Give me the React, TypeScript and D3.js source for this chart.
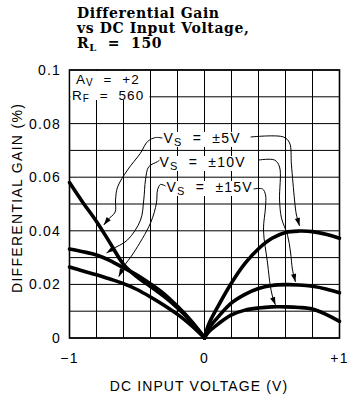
import React from "react";
import * as d3 from "d3";

const W = 349;
const H = 397;

// Axis domains and tick labels
const xDomain: [number, number] = [-1, 1];
const yDomain: [number, number] = [0, 0.1];
const xGrid = d3.range(11).map((i) => -1 + i * 0.2);
const yGrid = d3.range(11).map((i) => i * 0.01);
const xTicks = [-1, 0, 1];
const xTickLabels = ["\u22121", "0", "+1"];
const yTicks = [0, 0.02, 0.04, 0.06, 0.08, 0.1];
const yTickLabels = ["0", "0.02", "0.04", "0.06", "0.08", "0.1"];

// Differential gain (%) vs DC input voltage (V), negative side
const xLeft = [-1, -0.9, -0.8, -0.7, -0.6, -0.5, -0.4, -0.3, -0.2, -0.1, -0.03, 0];
const gain5Left = [0.058, 0.0505, 0.0435, 0.0355, 0.0275, 0.0228, 0.0192, 0.0155, 0.0112, 0.0062, 0.002, 0];
const gain10Left = [0.0332, 0.0322, 0.031, 0.0289, 0.0262, 0.0235, 0.0202, 0.0165, 0.0118, 0.0065, 0.0021, 0];
const gain15Left = [0.0265, 0.025, 0.0236, 0.022, 0.0203, 0.0181, 0.0153, 0.0122, 0.0088, 0.0048, 0.0015, 0];

// Positive side
const xRight = [0, 0.03, 0.1, 0.2, 0.3, 0.4, 0.5, 0.6, 0.7, 0.8, 0.9, 1.0];
const gain5Right = [0, 0.005, 0.0118, 0.0205, 0.0278, 0.0333, 0.0372, 0.0394, 0.0399, 0.0397, 0.0387, 0.0372];
const gain10Right = [0, 0.0035, 0.0078, 0.0131, 0.0163, 0.0185, 0.0196, 0.0199, 0.0198, 0.0193, 0.0183, 0.0169];
const gain15Right = [0, 0.0022, 0.0052, 0.0086, 0.0104, 0.0112, 0.0116, 0.0116, 0.0114, 0.0108, 0.0088, 0.0062];

// Supply-voltage callouts: label anchor (data units) and leader paths [x, y]
const supplyLabels = ["\u00b15V", "\u00b110V", "\u00b115V"];
const labelAnchors: [number, number][] = [
  [-0.304, 0.0728],
  [-0.333, 0.0638],
  [-0.281, 0.0545],
];
const leadersLeft: [number, number][][] = [
  [[-0.311, 0.0746], [-0.363, 0.0748], [-0.422, 0.0733], [-0.474, 0.069], [-0.57, 0.0627], [-0.644, 0.0563], [-0.659, 0.0515], [-0.662, 0.047], [-0.715, 0.0442], [-0.746, 0.0422]],
  [[-0.333, 0.0664], [-0.348, 0.0658], [-0.413, 0.0639], [-0.437, 0.059], [-0.45, 0.0515], [-0.474, 0.044], [-0.57, 0.0366], [-0.681, 0.0332], [-0.726, 0.0317]],
  [[-0.289, 0.0567], [-0.326, 0.0573], [-0.348, 0.0552], [-0.356, 0.0504], [-0.4, 0.0429], [-0.526, 0.0317], [-0.6, 0.0265], [-0.635, 0.0229]],
];
const leadersRight: [number, number][][] = [
  [[0.341, 0.075], [0.585, 0.075], [0.63, 0.0728], [0.644, 0.0646], [0.667, 0.0515], [0.681, 0.0459], [0.704, 0.0418]],
  [[0.4, 0.0664], [0.519, 0.0664], [0.556, 0.0638], [0.556, 0.0515], [0.57, 0.0448], [0.615, 0.0384], [0.637, 0.0321], [0.652, 0.0254], [0.674, 0.0209]],
  [[0.363, 0.0556], [0.43, 0.0556], [0.452, 0.0534], [0.452, 0.0489], [0.437, 0.0403], [0.467, 0.028], [0.489, 0.019], [0.511, 0.0142], [0.526, 0.0123]],
];

const SANS = "'Liberation Sans', Arial, sans-serif";
const SERIF = "'DejaVu Serif', serif";

export default function App() {
  const ref = React.useRef<SVGSVGElement>(null);

  React.useEffect(() => {
    const svg = d3.select(ref.current);
    svg.selectAll("*").remove();

    const x = d3.scaleLinear().domain(xDomain).range([69.5, 339.5]);
    const y = d3.scaleLinear().domain(yDomain).range([338, 70]);

    svg.append("rect").attr("width", W).attr("height", H).attr("fill", "#fff");

    // Title
    const title = svg.append("g").attr("font-family", SERIF).attr("font-weight", "bold")
      .attr("font-size", 14).attr("letter-spacing", 0.6).attr("fill", "#000");
    title.append("text").attr("x", 77).attr("y", 17.5).text("Differential Gain");
    title.append("text").attr("x", 77).attr("y", 32.5).text("vs DC Input Voltage,");
    const t3 = title.append("text").attr("x", 77).attr("y", 48).style("white-space", "pre");
    t3.append("tspan").text("R");
    t3.append("tspan").attr("dy", 3).attr("font-size", 10).text("L");
    t3.append("tspan").attr("dy", -3).text("  =  150");

    // Grid
    const grid = svg.append("g").attr("stroke", "#000").attr("stroke-width", 1);
    grid.selectAll("line.v").data(xGrid).join("line").attr("class", "v")
      .attr("x1", (d) => x(d)).attr("x2", (d) => x(d)).attr("y1", y(0)).attr("y2", y(0.1));
    grid.selectAll("line.h").data(yGrid).join("line").attr("class", "h")
      .attr("x1", x(-1)).attr("x2", x(1)).attr("y1", (d) => y(d)).attr("y2", (d) => y(d));

    // Plot frame
    svg.append("rect").attr("x", x(-1)).attr("y", y(0.1)).attr("width", x(1) - x(-1)).attr("height", y(0) - y(0.1))
      .attr("fill", "none").attr("stroke", "#000").attr("stroke-width", 1.6);

    // Tick labels
    const tl = svg.append("g").attr("font-family", SANS).attr("font-size", 14).attr("letter-spacing", 1.2).attr("fill", "#000");
    tl.selectAll("text.y").data(yTicks).join("text").attr("class", "y")
      .attr("x", 61).attr("y", (d) => y(d) + 5).attr("text-anchor", "end").text((d, i) => yTickLabels[i]);
    tl.selectAll("text.x").data(xTicks).join("text").attr("class", "x")
      .attr("x", (d) => x(d)).attr("y", 363).attr("text-anchor", "middle").text((d, i) => xTickLabels[i]);

    // Axis titles
    svg.append("text").attr("font-family", SANS).attr("font-size", 14).attr("letter-spacing", 1.1)
      .attr("x", 199).attr("y", 391).attr("text-anchor", "middle").text("DC INPUT VOLTAGE (V)");
    svg.append("text").attr("font-family", SANS).attr("font-size", 14).attr("letter-spacing", 1.3)
      .attr("transform", "translate(22,293) rotate(-90)").text("DIFFERENTIAL GAIN (%)");

    // Curves
    const line = d3.line<[number, number]>().x((d) => x(d[0])).y((d) => y(d[1])).curve(d3.curveCatmullRom.alpha(0.5));
    const series = [
      [xLeft, gain5Left], [xLeft, gain10Left], [xLeft, gain15Left],
      [xRight, gain5Right], [xRight, gain10Right], [xRight, gain15Right],
    ] as [number[], number[]][];
    svg.append("g").selectAll("path").data(series).join("path")
      .attr("d", ([xs, ys]) => line(xs.map((v, i) => [v, ys[i]] as [number, number])))
      .attr("fill", "none").attr("stroke", "#000").attr("stroke-width", 3.6).attr("stroke-linecap", "round").attr("stroke-linejoin", "round");

    // Conditions box
    svg.append("rect").attr("x", x(-1) + 1).attr("y", y(0.1) + 1).attr("width", 79).attr("height", 29).attr("fill", "#fff");
    const cond = svg.append("g").attr("font-family", SANS).attr("font-size", 13.5).attr("letter-spacing", 1.1);
    const av = cond.append("text").attr("x", 76).attr("y", 84).style("white-space", "pre");
    av.append("tspan").text("A");
    av.append("tspan").attr("dy", 2).attr("font-size", 10).text("V");
    av.append("tspan").attr("dy", -2).text("  =  +2");
    const rf = cond.append("text").attr("x", 72).attr("y", 99.5).style("white-space", "pre");
    rf.append("tspan").text("R");
    rf.append("tspan").attr("dy", 2).attr("font-size", 10).text("F");
    rf.append("tspan").attr("dy", -2).text("  =  560");

    // Supply-voltage callouts
    const leaderLine = d3.line<[number, number]>().x((d) => x(d[0])).y((d) => y(d[1])).curve(d3.curveCatmullRom.alpha(0.5));
    const drawLeader = (pts: [number, number][]) => {
      svg.append("path").attr("d", leaderLine(pts)).attr("fill", "none").attr("stroke", "#000").attr("stroke-width", 1);
      const n = pts.length;
      const tx = x(pts[n - 1][0]), ty = y(pts[n - 1][1]);
      const px = x(pts[n - 2][0]), py = y(pts[n - 2][1]);
      const len = Math.hypot(tx - px, ty - py) || 1;
      const ux = (tx - px) / len, uy = (ty - py) / len;
      const L = 8, hw = 2.6;
      const bx = tx - ux * L, by = ty - uy * L;
      svg.append("path")
        .attr("d", `M${tx},${ty}L${bx - uy * hw},${by + ux * hw}L${bx + uy * hw},${by - ux * hw}Z`)
        .attr("fill", "#000");
    };

    supplyLabels.forEach((lab, i) => {
      const [ax, ay] = labelAnchors[i];
      const gLab = svg.append("g");
      const bg = gLab.append("rect").attr("fill", "#fff");
      const t = gLab.append("text").attr("font-family", SANS).attr("font-size", 14).attr("letter-spacing", 1.2)
        .style("white-space", "pre").attr("x", x(ax)).attr("y", y(ay));
      t.append("tspan").text("V");
      t.append("tspan").attr("dy", 3).attr("font-size", 11).text("S");
      t.append("tspan").attr("dy", -3).text("  =  " + lab);
      const bb = (t.node() as SVGTextElement).getBBox();
      bg.attr("x", bb.x - 2).attr("y", bb.y + 2).attr("width", bb.width + 4).attr("height", bb.height - 3);
      drawLeader(leadersLeft[i]);
      drawLeader(leadersRight[i]);
    });
  }, []);

  return (
    <svg ref={ref} width={W} height={H} style={{ position: "absolute", left: 0, top: 0 }} />
  );
}
